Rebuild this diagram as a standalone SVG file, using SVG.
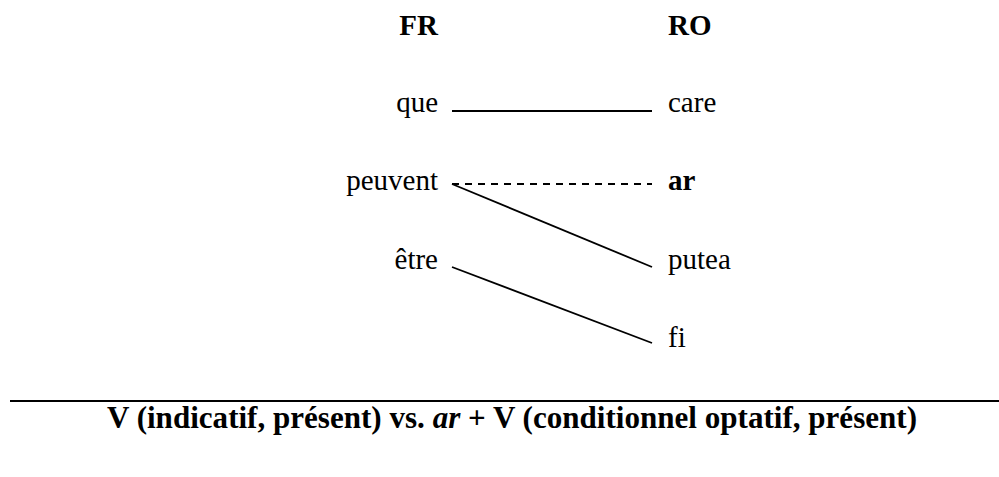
<svg xmlns="http://www.w3.org/2000/svg" width="999" height="477" viewBox="0 0 999 477">
<style>
text{font-family:"Liberation Serif","Times New Roman",serif;font-size:29px;fill:#000}
.l{text-anchor:end}
.b{font-weight:bold}
.c line{stroke:#000;stroke-width:1.8;fill:none}
.d{stroke-dasharray:7 6}
</style>
<rect width="999" height="477" fill="#fff"/>
<g id="header-fr"><text class="l b" x="438" y="35">FR</text></g>
<g id="header-ro"><text class="b" x="668" y="35">RO</text></g>
<g id="fr-que"><text class="l" x="438" y="112">que</text></g>
<g id="fr-peuvent"><text class="l" x="438" y="190">peuvent</text></g>
<g id="fr-etre"><text class="l" x="438" y="269">être</text></g>
<g id="ro-care"><text x="668" y="112">care</text></g>
<g id="ro-ar"><text class="b" x="668" y="190">ar</text></g>
<g id="ro-putea"><text x="668" y="269">putea</text></g>
<g id="ro-fi"><text x="668" y="347">fi</text></g>
<g id="connectors" class="c">
<line x1="452" y1="111" x2="652" y2="111"/>
<line class="d" x1="452" y1="184" x2="652" y2="184"/>
<line x1="452" y1="184" x2="652" y2="267"/>
<line x1="452" y1="267" x2="652" y2="343"/>
</g>
<line x1="10" y1="401" x2="999" y2="401" stroke="#000" stroke-width="2"/>
<g id="caption"><text class="b" x="512" y="428" text-anchor="middle" style="font-size:31px" textLength="810" lengthAdjust="spacingAndGlyphs">V (indicatif, présent) vs. <tspan font-style="italic">ar</tspan> + V (conditionnel optatif, présent)</text></g>
</svg>
